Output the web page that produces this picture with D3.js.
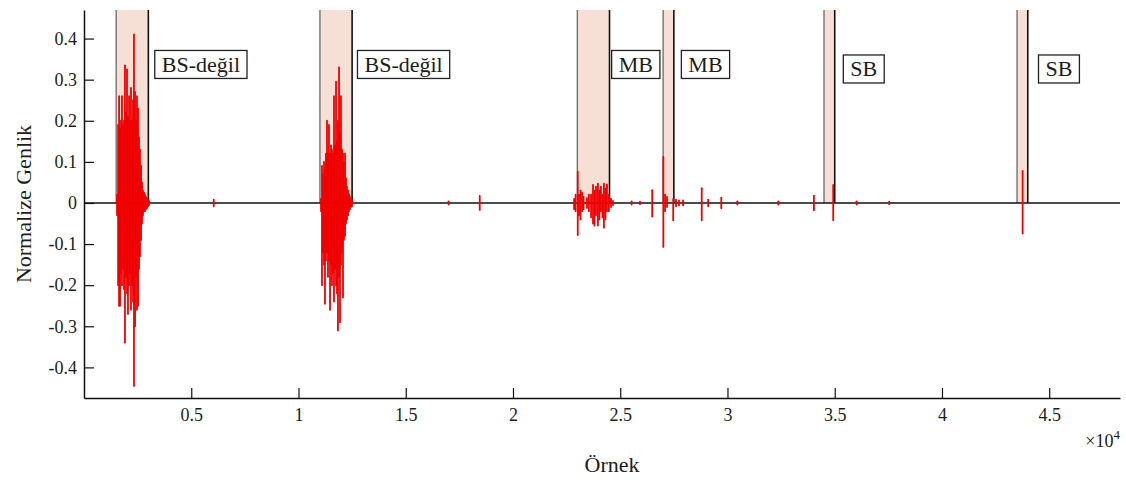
<!DOCTYPE html>
<html>
<head>
<meta charset="utf-8">
<script src="https://cdn.jsdelivr.net/npm/d3@7"></script>
<style>
  html, body { margin: 0; padding: 0; background: #fff; }
  svg { display: block; }
  svg text { font-family: "Times New Roman", Times, "Liberation Serif", "DejaVu Serif", serif !important; }
</style>
</head>
<body>
<svg id="chart" width="1126" height="480"></svg>
<script>
// ---------- data ----------
const xTicks = [5000, 10000, 15000, 20000, 25000, 30000, 35000, 40000, 45000];
const xTickLabels = ["0.5", "1", "1.5", "2", "2.5", "3", "3.5", "4", "4.5"];
const yTicks = [0.4, 0.3, 0.2, 0.1, 0, -0.1, -0.2, -0.3, -0.4];
const yTickLabels = ["0.4", "0.3", "0.2", "0.1", "0", "-0.1", "-0.2", "-0.3", "-0.4"];

const regionStart = [1500, 11000, 23000, 27000, 34500, 43500];
const regionEnd   = [3000, 12500, 24500, 27500, 35000, 44000];

const labelText = ["BS-değil", "BS-değil", "MB", "MB", "SB", "SB"];
const labelX    = [3300, 12750, 24600, 27850, 35400, 44500];
const labelY    = [0.337, 0.337, 0.337, 0.337, 0.326, 0.326];

// [sample, max, min]
const burst1 = [
  [1540, 0.02, -0.03], [1590, 0.19, -0.20], [1635, 0.26, -0.25], [1680, 0.18, -0.25],
  [1725, 0.20, -0.17], [1770, 0.26, -0.20], [1820, 0.19, -0.16], [1865, 0.20, -0.21],
  [1910, 0.335, -0.34], [1960, 0.22, -0.18], [2005, 0.325, -0.22], [2050, 0.21, -0.27],
  [2100, 0.26, -0.20], [2145, 0.20, -0.17], [2190, 0.28, -0.26], [2240, 0.20, -0.20],
  [2285, 0.25, -0.24], [2330, 0.41, -0.445], [2380, 0.27, -0.30], [2425, 0.20, -0.18],
  [2470, 0.26, -0.26], [2520, 0.23, -0.25], [2565, 0.16, -0.16], [2610, 0.13, -0.13],
  [2660, 0.09, -0.09], [2705, 0.05, -0.05], [2750, 0.03, -0.03], [2800, 0.025, -0.02],
  [2845, 0.02, -0.02], [2890, 0.015, -0.015], [2940, 0.012, -0.012], [2985, 0.008, -0.008],
  [3030, 0.005, -0.005]
];
const burst2 = [
  [11050, 0.01, -0.02], [11095, 0.09, -0.20], [11140, 0.07, -0.12], [11190, 0.10, -0.15],
  [11235, 0.08, -0.245], [11280, 0.12, -0.14], [11330, 0.20, -0.12], [11375, 0.12, -0.18],
  [11420, 0.19, -0.14], [11470, 0.12, -0.26], [11515, 0.14, -0.15], [11560, 0.13, -0.20],
  [11610, 0.12, -0.17], [11655, 0.26, -0.24], [11700, 0.14, -0.16], [11750, 0.295, -0.20],
  [11795, 0.15, -0.22], [11840, 0.20, -0.31], [11890, 0.33, -0.18], [11935, 0.17, -0.29],
  [11980, 0.26, -0.15], [12030, 0.13, -0.12], [12075, 0.12, -0.23], [12120, 0.10, -0.09],
  [12170, 0.12, -0.08], [12215, 0.06, -0.05], [12260, 0.04, -0.04], [12310, 0.03, -0.03],
  [12355, 0.02, -0.02], [12400, 0.015, -0.015], [12450, 0.01, -0.01], [12495, 0.008, -0.008]
];
const events = [
  [6050, 0.008, -0.008], [17000, 0.004, -0.004], [18450, 0.017, -0.017],
  [22850, 0.01, -0.015], [22920, 0.02, -0.02], [23020, 0.076, -0.078], [23080, 0.02, -0.03],
  [23150, 0.03, -0.04], [23220, 0.025, -0.02], [23290, 0.015, -0.015], [23450, 0.012, -0.012],
  [23540, 0.02, -0.02], [23640, 0.02, -0.035], [23730, 0.044, -0.05], [23800, 0.03, -0.055],
  [23870, 0.04, -0.03], [23960, 0.047, -0.055], [24030, 0.03, -0.04], [24100, 0.04, -0.02],
  [24170, 0.02, -0.035], [24240, 0.047, -0.06], [24310, 0.035, -0.04], [24380, 0.045, -0.02],
  [24470, 0.02, -0.02], [24570, 0.01, -0.01], [24660, 0.005, -0.005],
  [25530, 0.004, -0.004], [25920, 0.003, -0.003], [26490, 0.031, -0.033],
  [27010, 0.112, -0.107], [27090, 0.02, -0.02], [27180, 0.015, -0.01], [27470, 0.01, -0.042],
  [27600, 0.008, -0.008], [27740, 0.006, -0.006], [27930, 0.006, -0.006],
  [28800, 0.036, -0.042], [29100, 0.008, -0.008], [29710, 0.013, -0.013],
  [30460, 0.004, -0.004], [32370, 0.004, -0.004], [34030, 0.018, -0.018],
  [34930, 0.044, -0.042], [36020, 0.004, -0.004], [37540, 0.003, -0.003],
  [43760, 0.078, -0.074]
];

// ---------- layout ----------
const svg = d3.select("#chart");
const plot = { left: 84, right: 1120, top: 10, bottom: 398 };
const x = d3.scaleLinear().domain([0, 48300]).range([plot.left, plot.right]);
const y = d3.scaleLinear().domain([-0.4745, 0.4695]).range([plot.bottom, plot.top]);
const textColor = "#1c1c1c";

// shaded regions (from top to zero line)
const regions = regionStart.map((s, i) => ({ s, e: regionEnd[i] }));
svg.append("g").selectAll("rect").data(regions).join("rect")
  .attr("x", d => x(d.s)).attr("y", y.range()[1])
  .attr("width", d => x(d.e) - x(d.s))
  .attr("height", y(0) - y.range()[1])
  .attr("fill", "#f6e0d5");
svg.append("g").selectAll("line").data(regions).join("line")
  .attr("x1", d => x(d.s)).attr("x2", d => x(d.s))
  .attr("y1", y.range()[1]).attr("y2", y(0))
  .attr("stroke", "#6a6a6a").attr("stroke-width", 1.3);
svg.append("g").selectAll("line").data(regions).join("line")
  .attr("x1", d => x(d.e)).attr("x2", d => x(d.e))
  .attr("y1", y.range()[1]).attr("y2", y(0))
  .attr("stroke", "#111").attr("stroke-width", 1.6);

// zero line
svg.append("line")
  .attr("x1", plot.left).attr("x2", plot.right)
  .attr("y1", y(0)).attr("y2", y(0))
  .attr("stroke", "#111").attr("stroke-width", 1.5);

// signal
const signal = burst1.concat(burst2, events);
svg.append("g").selectAll("line").data(signal).join("line")
  .attr("x1", d => x(d[0])).attr("x2", d => x(d[0]))
  .attr("y1", d => y(d[1])).attr("y2", d => y(d[2]))
  .attr("stroke", "#f00000").attr("stroke-width", 1.8)
  .attr("stroke-linecap", "round");

// axes
const xAxis = d3.axisBottom(x).tickValues(xTicks)
  .tickFormat((d, i) => xTickLabels[i]).tickSizeInner(-10).tickSizeOuter(0).tickPadding(10);
const gx = svg.append("g").attr("transform", `translate(0,${plot.bottom})`).call(xAxis);
const yAxis = d3.axisLeft(y).tickValues(yTicks)
  .tickFormat((d, i) => yTickLabels[i]).tickSizeInner(-10).tickSizeOuter(0).tickPadding(7);
const gy = svg.append("g").attr("transform", `translate(${plot.left},0)`).call(yAxis);
[gx, gy].forEach(g => {
  g.attr("font-family", null);
  g.select(".domain").attr("stroke", "#111").attr("stroke-width", 1.5);
  g.selectAll(".tick line").attr("stroke", "#111").attr("stroke-width", 1.2);
  g.selectAll(".tick text").attr("fill", textColor).style("font-size", "18px");
});

// axis titles
svg.append("text")
  .attr("transform", `translate(23,${(plot.top + plot.bottom) / 2}) rotate(-90)`)
  .attr("text-anchor", "middle").attr("dominant-baseline", "central")
  .attr("fill", textColor).style("font-size", "22px").text("Normalize Genlik");
svg.append("text")
  .attr("x", 612).attr("y", 472).attr("text-anchor", "middle")
  .attr("fill", textColor).style("font-size", "22px").text("Örnek");
const mult = svg.append("text")
  .attr("x", plot.right).attr("y", 447).attr("text-anchor", "end")
  .attr("fill", textColor).style("font-size", "18px");
mult.append("tspan").text("×10");
mult.append("tspan").attr("dy", -8).style("font-size", "13px").text("4");

// labels with boxes
const lab = svg.append("g").selectAll("g").data(labelText).join("g");
lab.each(function (t, i) {
  const g = d3.select(this);
  const x0 = x(labelX[i]);
  const yc = y(labelY[i]);
  const rect = g.append("rect");
  const txt = g.append("text")
    .attr("x", x0 + 7).attr("y", yc)
    .attr("dominant-baseline", "central")
    .attr("fill", textColor).style("font-size", "22px").text(t);
  const w = txt.node().getComputedTextLength();
  rect.attr("x", x0).attr("y", yc - 14).attr("width", w + 14).attr("height", 28)
    .attr("fill", "#fff").attr("stroke", "#222").attr("stroke-width", 1.3);
});
</script>
</body>
</html>
